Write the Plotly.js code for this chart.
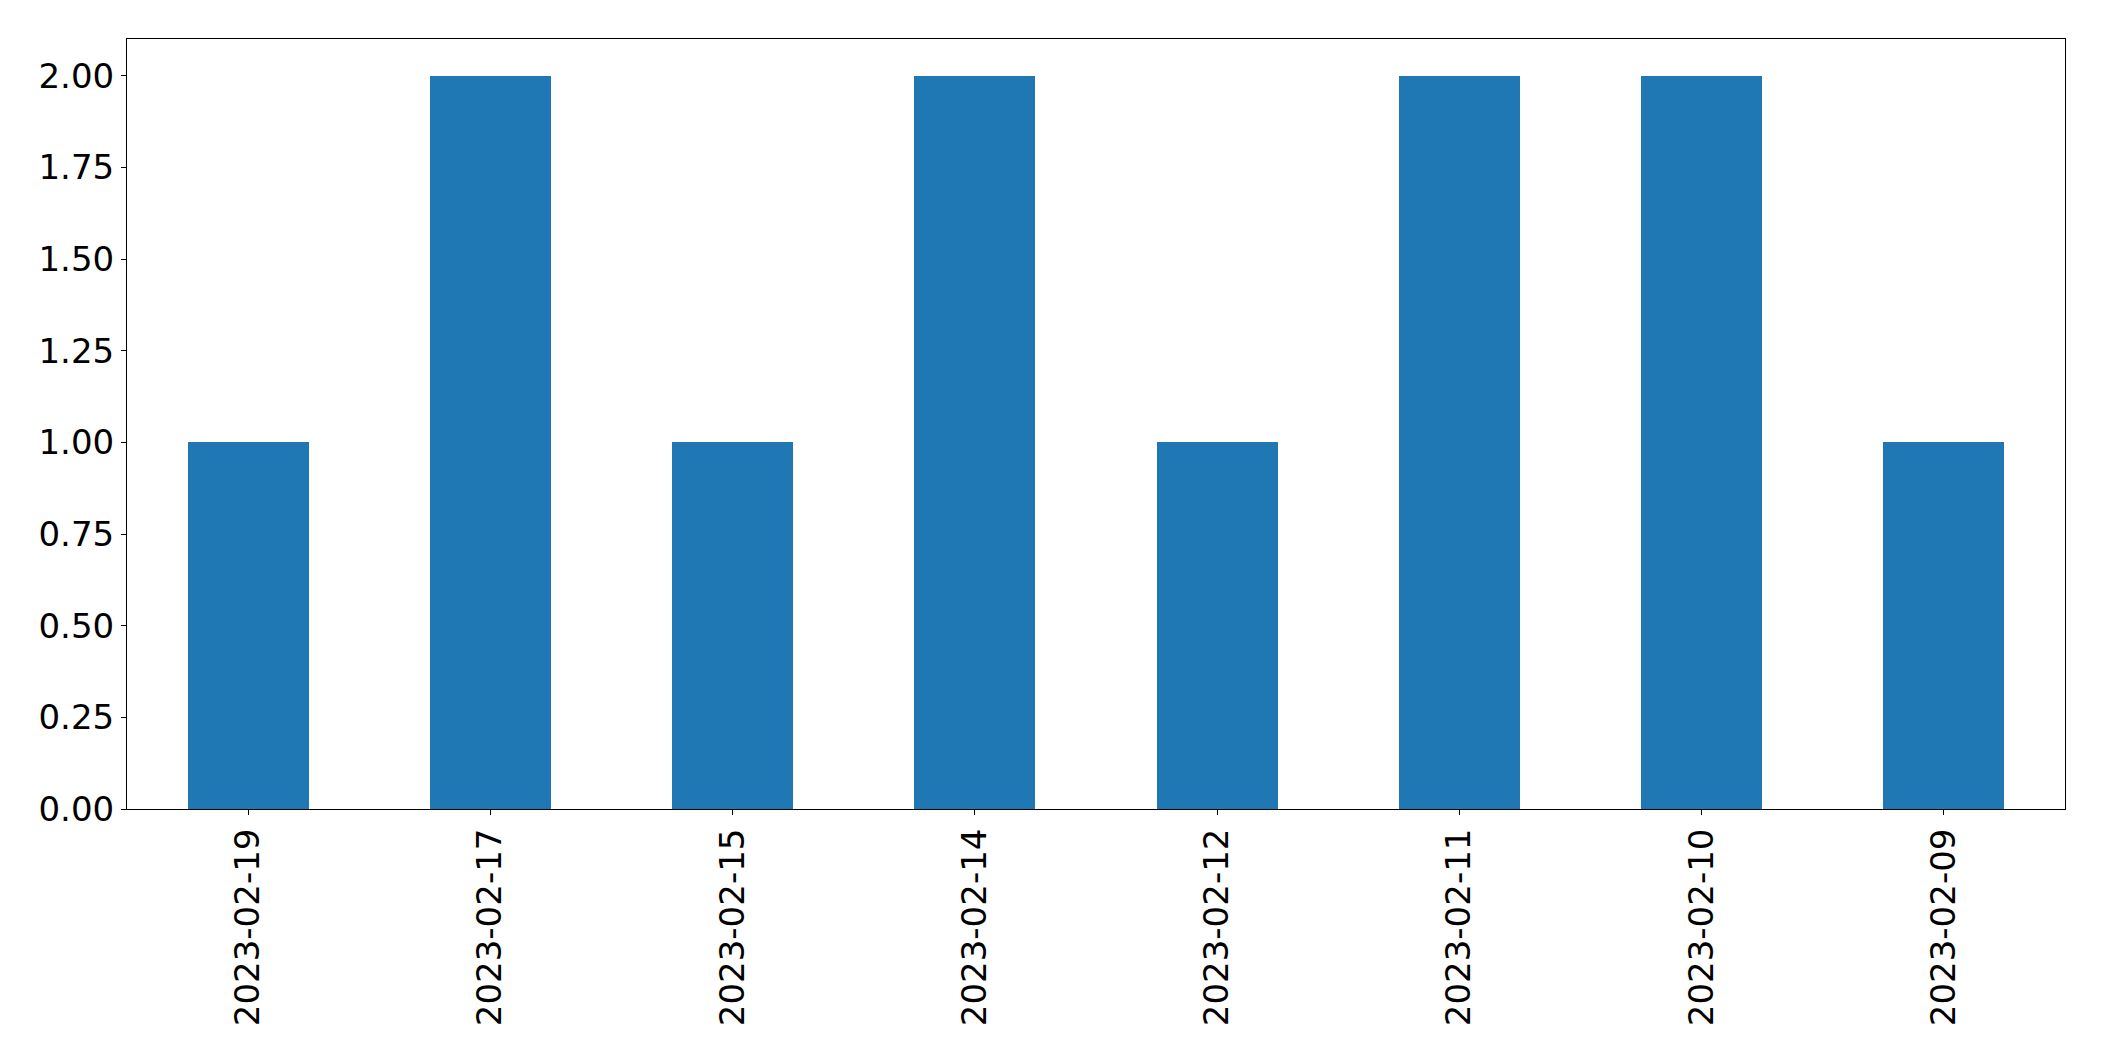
<!DOCTYPE html>
<html>
<head>
<meta charset="utf-8">
<script src="https://cdn.plot.ly/plotly-3.0.1.min.js"></script>
<style>html,body{margin:0;padding:0;background:#fff;}#chart{width:2104px;height:1061px;}</style>
</head>
<body>
<div id="chart"></div>
<script>
const categories = ["2023-02-19","2023-02-17","2023-02-15","2023-02-14","2023-02-12","2023-02-11","2023-02-10","2023-02-09"];
const counts = [1, 2, 1, 2, 1, 2, 2, 1];

const trace = {
  type: 'bar',
  x: categories,
  y: counts,
  width: 0.5,
  marker: {color: '#1f77b4', line: {width: 0}},
  hoverinfo: 'x+y'
};

const font = {family: 'DejaVu Sans, sans-serif', size: 34, color: '#000'};

const layout = {
  width: 2104,
  height: 1061,
  margin: {l: 127, r: 39, t: 39, b: 252, pad: 0},
  paper_bgcolor: '#fff',
  plot_bgcolor: '#fff',
  showlegend: false,
  font: font,
  bargap: 0,
  xaxis: {
    type: 'category',
    range: [-0.5, 7.5],
    tickangle: -90,
    ticks: 'outside',
    ticklen: 5,
    tickwidth: 1,
    tickcolor: '#000',
    showline: true,
    linecolor: '#000',
    linewidth: 1,
    mirror: true,
    showgrid: false,
    zeroline: false,
    tickfont: font,
    automargin: false
  },
  yaxis: {
    range: [0, 2.1],
    tick0: 0,
    dtick: 0.25,
    tickformat: '.2f',
    ticks: 'outside',
    ticklen: 5,
    tickwidth: 1,
    tickcolor: '#000',
    showline: true,
    linecolor: '#000',
    linewidth: 1,
    mirror: true,
    showgrid: false,
    zeroline: false,
    tickfont: font,
    automargin: false
  }
};

Plotly.newPlot('chart', [trace], layout, {displayModeBar: false, staticPlot: true});
</script>
</body>
</html>
